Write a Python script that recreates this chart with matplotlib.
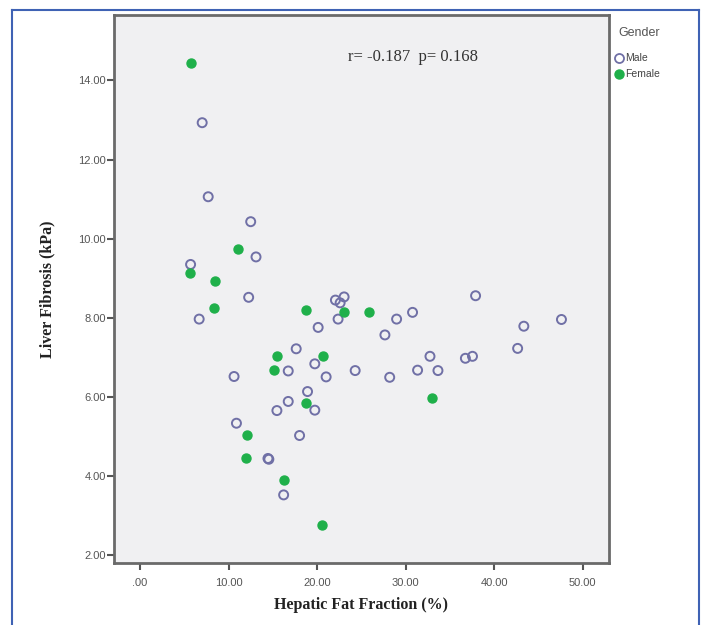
import matplotlib
matplotlib.use("Agg")
import matplotlib.pyplot as plt
from matplotlib.lines import Line2D

# ---- data ----
male_x = [7.02, 7.7, 12.5, 13.1, 5.71, 12.27, 6.68, 22.07, 23.05, 22.6, 22.37, 20.12,
          17.64, 19.74, 16.74, 21.02, 10.62, 18.92, 16.74, 15.46, 19.74, 10.89, 18.02,
          14.45, 14.55, 16.22, 28.98, 30.78, 27.66, 37.9, 43.35, 42.65, 32.75, 36.75,
          37.55, 24.3, 31.35, 33.65, 28.2, 47.6]
male_y = [12.93, 11.06, 10.43, 9.54, 9.35, 8.52, 7.97, 8.45, 8.53, 8.38, 7.97, 7.76,
          7.22, 6.84, 6.66, 6.51, 6.52, 6.14, 5.89, 5.66, 5.67, 5.34, 5.03,
          4.45, 4.43, 3.53, 7.97, 8.14, 7.57, 8.56, 7.79, 7.23, 7.03, 6.98,
          7.03, 6.67, 6.68, 6.67, 6.50, 7.96]
female_x = [5.71, 11.1, 5.63, 8.48, 8.33, 18.73, 23.05, 25.85, 15.43, 20.72, 15.12,
            18.77, 12.13, 11.94, 16.22, 20.53, 32.95]
female_y = [14.45, 9.75, 9.14, 8.93, 8.25, 8.19, 8.14, 8.16, 7.03, 7.03, 6.68,
            5.84, 5.04, 4.45, 3.91, 2.76, 5.97]

x_ticks = [0, 10, 20, 30, 40, 50]
x_ticklabels = [".00", "10.00", "20.00", "30.00", "40.00", "50.00"]
y_ticks = [2, 4, 6, 8, 10, 12, 14]
y_ticklabels = ["2.00", "4.00", "6.00", "8.00", "10.00", "12.00", "14.00"]

male_color = "#7070a6"
female_color = "#1fb04a"

fig = plt.figure(figsize=(7.08, 6.25), dpi=100)
fig.patch.set_facecolor("white")

ax = fig.add_axes([114/708, 1-563/625, (609-114)/708, (563-15)/625])
ax.set_facecolor("#f0f0f2")

ax.scatter(male_x, male_y, s=42, facecolors="none", edgecolors=male_color,
           linewidths=1.4, zorder=3)
ax.scatter(female_x, female_y, s=42, facecolors=female_color, edgecolors=female_color,
           linewidths=1.0, zorder=3)

ax.set_xlim(-2.94, 52.97)
ax.set_ylim(1.81, 15.65)
ax.set_xticks(x_ticks)
ax.set_xticklabels(x_ticklabels)
ax.set_yticks(y_ticks)
ax.set_yticklabels(y_ticklabels)

for sp in ax.spines.values():
    sp.set_color("#6a6a6a")
    sp.set_linewidth(2.0)

ax.tick_params(axis="both", direction="out", length=5, width=1.5, color="#555555",
               labelcolor="#555555", labelsize=8)
for lab in ax.get_xticklabels() + ax.get_yticklabels():
    lab.set_family("Liberation Sans")
ax.tick_params(axis="x", pad=6)
ax.tick_params(axis="y", pad=1)

ax.set_xlabel("Hepatic Fat Fraction (%)", family="Liberation Serif", fontweight="bold",
              fontsize=11.5, color="#222222", labelpad=6)
ax.set_ylabel("Liver Fibrosis (kPa)", family="Liberation Serif", fontweight="bold",
              fontsize=11.5, color="#222222", labelpad=16)

ax.text(0.605, 0.923, "r= -0.187  p= 0.168", transform=ax.transAxes,
        family="Liberation Serif", fontsize=12, color="#333333", ha="center", va="center")

# legend
fig.text(618/708, 1-33/625, "Gender", family="Liberation Sans", fontsize=9,
         color="#555555", ha="left", va="center")
fig.add_artist(Line2D([619/708], [1-58/625], marker="o", markersize=6.5,
                      markerfacecolor="none", markeredgecolor=male_color,
                      markeredgewidth=1.3, linestyle="none", transform=fig.transFigure))
fig.add_artist(Line2D([619/708], [1-74/625], marker="o", markersize=6.5,
                      markerfacecolor=female_color, markeredgecolor=female_color,
                      linestyle="none", transform=fig.transFigure))
fig.text(625/708, 1-58/625, "Male", family="Liberation Sans", fontsize=7.5,
         color="#444444", ha="left", va="center")
fig.text(625/708, 1-74/625, "Female", family="Liberation Sans", fontsize=7.5,
         color="#444444", ha="left", va="center")

# outer blue frame
bc = "#3f62b4"
fig.add_artist(Line2D([12/708, 12/708], [0, 1-10/625], color=bc, lw=1.5, transform=fig.transFigure))
fig.add_artist(Line2D([12/708, 699/708], [1-10/625, 1-10/625], color=bc, lw=1.5, transform=fig.transFigure))
fig.add_artist(Line2D([699/708, 699/708], [0, 1-10/625], color=bc, lw=1.5, transform=fig.transFigure))

fig.savefig("out.png", dpi=100)
